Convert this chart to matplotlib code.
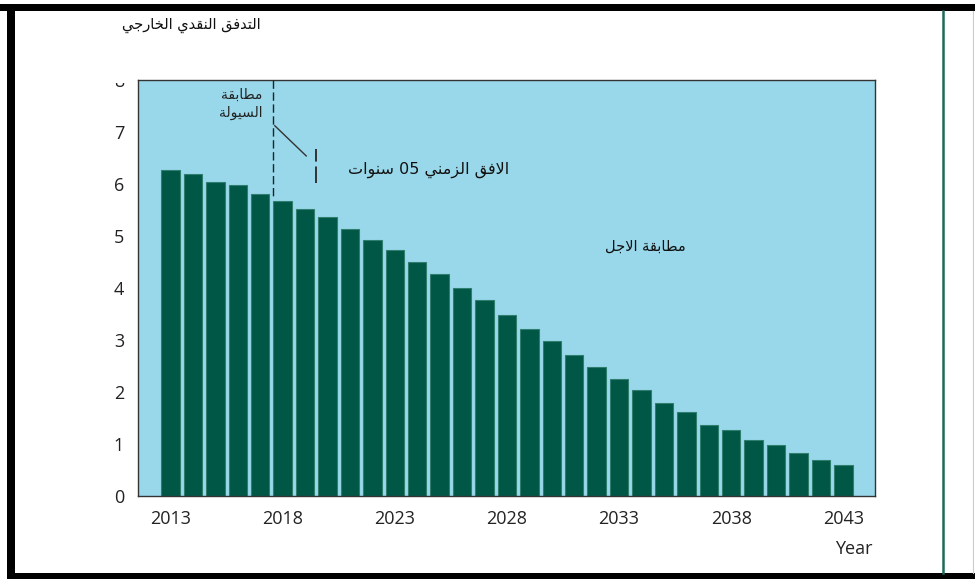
import numpy as np
import matplotlib
matplotlib.use("Agg")
import matplotlib.pyplot as plt
from matplotlib.patches import Rectangle
from matplotlib.lines import Line2D
from matplotlib.transforms import Bbox, TransformedBbox

# data
years = list(range(2013, 2044))
outflow = [6.27, 6.19, 6.04, 5.98, 5.81, 5.67, 5.52, 5.37, 5.13, 4.92,
           4.73, 4.50, 4.27, 4.00, 3.77, 3.48, 3.21, 2.98, 2.71, 2.48,
           2.25, 2.04, 1.79, 1.62, 1.37, 1.27, 1.08, 0.98, 0.83, 0.69, 0.60]
xtick_years = [2013, 2018, 2023, 2028, 2033, 2038, 2043]
yticks = [0, 1, 2, 3, 4, 5, 6, 7, 8]

title_txt = "التدفق النقدي الخارجي"
liq_txt = "مطابقة\nالسيولة"
horizon_txt = "الافق الزمني 05 سنوات"
term_txt = "مطابقة الاجل"

# minimal arabic shaping (matplotlib has no text shaping)
# (isolated, final, initial, medial); None -> joins only to the right
FORMS = {
    "ا": (0xFE8D, 0xFE8E, None, None),
    "ب": (0xFE8F, 0xFE90, 0xFE91, 0xFE92),
    "ة": (0xFE93, 0xFE94, None, None),
    "ت": (0xFE95, 0xFE96, 0xFE97, 0xFE98),
    "ج": (0xFE9D, 0xFE9E, 0xFE9F, 0xFEA0),
    "خ": (0xFEA5, 0xFEA6, 0xFEA7, 0xFEA8),
    "د": (0xFEA9, 0xFEAA, None, None),
    "ر": (0xFEAD, 0xFEAE, None, None),
    "ز": (0xFEAF, 0xFEB0, None, None),
    "س": (0xFEB1, 0xFEB2, 0xFEB3, 0xFEB4),
    "ط": (0xFEC1, 0xFEC2, 0xFEC3, 0xFEC4),
    "ف": (0xFED1, 0xFED2, 0xFED3, 0xFED4),
    "ق": (0xFED5, 0xFED6, 0xFED7, 0xFED8),
    "ل": (0xFEDD, 0xFEDE, 0xFEDF, 0xFEE0),
    "م": (0xFEE1, 0xFEE2, 0xFEE3, 0xFEE4),
    "ن": (0xFEE5, 0xFEE6, 0xFEE7, 0xFEE8),
    "و": (0xFEED, 0xFEEE, None, None),
    "ي": (0xFEF1, 0xFEF2, 0xFEF3, 0xFEF4),
}


def dual(c):
    return c in FORMS and FORMS[c][2] is not None


def shape_line(s):
    out = []
    i = 0
    while i < len(s):
        c = s[i]
        if c not in FORMS:
            out.append(c)
            i += 1
            continue
        prev = s[i - 1] if i > 0 else ""
        jp = dual(prev)
        if c == "ل" and i + 1 < len(s) and s[i + 1] == "ا":
            out.append(chr(0xFEFC if jp else 0xFEFB))
            i += 2
            continue
        nxt = s[i + 1] if i + 1 < len(s) else ""
        jn = dual(c) and nxt in FORMS
        f = FORMS[c]
        if jp and jn:
            out.append(chr(f[3]))
        elif jp:
            out.append(chr(f[1]))
        elif jn:
            out.append(chr(f[2]))
        else:
            out.append(chr(f[0]))
        i += 1
    # visual order: reverse, keep digit runs left-to-right
    rev = "".join(out)[::-1]
    res, run = "", ""
    for ch in rev:
        if ch.isdigit():
            run += ch
        else:
            res += run[::-1] + ch
            run = ""
    return res + run[::-1]


def ar(s):
    return "\n".join(shape_line(l) for l in s.split("\n"))


W, H = 975, 579
fig = plt.figure(figsize=(W / 100, H / 100), dpi=100)
fig.patch.set_facecolor("white")


def fx(x):
    return x / W


def fy(y):
    return 1 - y / H


ax = fig.add_axes([fx(138), fy(496), fx(875) - fx(138), fy(80) - fy(496)])
ax.set_facecolor("#99d8ea")
ax.bar(years, outflow, width=0.82, color="#005746", edgecolor="#2e7d6d", linewidth=0.8, zorder=2)
ax.set_xlim(2011.55, 2044.41)
ax.set_ylim(0, 8)
ax.set_xticks(xtick_years)
ax.set_xticklabels([str(y) for y in xtick_years], fontsize=13, family="Open Sans", color="#222222")
ax.set_yticks(yticks)
ax.set_yticklabels([str(v) for v in yticks], fontsize=13, family="Open Sans", color="#222222")
ax.tick_params(length=0)
ax.tick_params(axis="x", pad=10)
ax.tick_params(axis="y", pad=10)
for sp in ax.spines.values():
    sp.set_color("#333333")
    sp.set_linewidth(1.0)

# the "8" is cut by the white band above the plot
clip = TransformedBbox(Bbox([[0, 0], [1, fy(82.5)]]), fig.transFigure)
lbl8 = ax.get_yticklabels()[-1]
lbl8.set_clip_box(clip)
lbl8.set_clip_on(True)

ax.text(2044.3, -1.02, "Year", fontsize=13, family="Open Sans", color="#222222",
        ha="right", va="center")

# liquidity matching boundary
ax.plot([2017.55, 2017.55], [8, 5.75], color="#222222", lw=1.0,
        linestyle=(0, (6, 2.6)), zorder=3)
ax.plot([2019.5, 2019.5], [6.02, 6.67], color="#333333", lw=1.4,
        linestyle=(0, (8.5, 2.5)), zorder=3)
ax.plot([2017.65, 2019.05], [7.12, 6.54], color="#333333", lw=1.0, zorder=3)

ax.text(2017.1, 7.54, ar(liq_txt), fontsize=10, family="DejaVu Sans", color="#222222",
        ha="right", va="center", linespacing=1.45)
ax.text(2024.52, 6.27, ar(horizon_txt), fontsize=11.5, family="DejaVu Sans",
        color="#111111", ha="center", va="center")
ax.text(2034.15, 4.81, ar(term_txt), fontsize=10.5, family="DejaVu Sans", color="#111111",
        ha="center", va="center")

fig.text(fx(191), fy(25), ar(title_txt), fontsize=10.5, family="DejaVu Sans", color="#111111",
         ha="center", va="center")

# page frame
fig.add_artist(Rectangle((fx(0), fy(11)), 1, fy(4) - fy(11), transform=fig.transFigure,
                         facecolor="black", edgecolor="none"))
fig.add_artist(Rectangle((fx(7), fy(579)), fx(15) - fx(7), fy(4) - fy(579),
                         transform=fig.transFigure, facecolor="black", edgecolor="none"))
fig.add_artist(Rectangle((fx(7), fy(579)), 1, fy(573) - fy(579), transform=fig.transFigure,
                         facecolor="black", edgecolor="none"))
fig.add_artist(Line2D([fx(942.8), fx(942.8)], [fy(11), fy(573)], transform=fig.transFigure,
                      color="#1a6b5a", lw=1.8))
fig.add_artist(Line2D([fx(973), fx(973)], [fy(11), fy(573)], transform=fig.transFigure,
                      color="#cccccc", lw=0.8))

fig.savefig("out.png", dpi=100)
